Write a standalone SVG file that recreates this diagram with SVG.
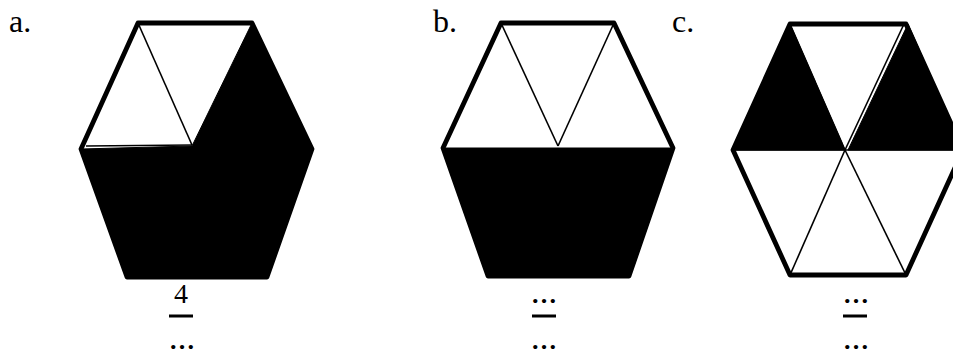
<svg xmlns="http://www.w3.org/2000/svg" width="953" height="351" viewBox="0 0 953 351">
<style>
.lbl{font-family:"Liberation Serif","Times New Roman",serif;font-size:32px;fill:#000}
.num{font-family:"Liberation Serif","Times New Roman",serif;font-size:28px;fill:#000;text-anchor:middle}
.dots{font-family:"Liberation Serif","Times New Roman",serif;font-size:26px;font-weight:bold;fill:#000;text-anchor:middle}
.fill{fill:#000;stroke:#000;stroke-width:1;stroke-linejoin:round}
.out{fill:none;stroke:#000;stroke-width:4.8;stroke-linejoin:round;stroke-linecap:round}
.thin{fill:none;stroke:#000;stroke-width:1.6}
.bar{fill:#000}
</style>
<rect width="953" height="351" fill="#fff"/>
<g id="hex-a">
  <polygon class="fill" points="252,23 312,149 267,277 127,277 81,149 192,146"/>
  <line class="thin" x1="138" y1="23" x2="192" y2="145"/>
  <line class="thin" x1="86" y1="146" x2="192" y2="145"/>
  <polygon class="out" points="138,23 252,23 312,149 267,277 127,277 81,149"/>
  <text class="lbl" x="9" y="32">a.</text>
  <text class="num" x="181" y="303">4</text>
  <rect class="bar" x="169" y="314.5" width="24" height="3"/>
  <text class="dots" x="182" y="349">…</text>
</g>
<g id="hex-b">
  <polygon class="fill" points="443,148 673,148 629,276 488,276"/>
  <line class="thin" x1="501" y1="23" x2="558" y2="146"/>
  <line class="thin" x1="614" y1="23" x2="558" y2="146"/>
  <polygon class="out" points="501,23 614,23 673,148 629,276 488,276 443,148"/>
  <text class="lbl" x="433" y="32">b.</text>
  <text class="dots" x="544" y="303">…</text>
  <rect class="bar" x="532" y="314.5" width="24" height="3"/>
  <text class="dots" x="544" y="349">…</text>
</g>
<g id="hex-c">
  <polygon class="fill" points="790,24 733,150 845,150"/>
  <polygon class="fill" points="908,24 963,150 848,150"/>
  <line class="thin" x1="904" y1="24" x2="845" y2="150"/>
  <line class="thin" x1="790" y1="24" x2="845" y2="150"/>
  <line class="thin" x1="733" y1="150" x2="963" y2="150"/>
  <line class="thin" x1="845" y1="150" x2="790" y2="275"/>
  <line class="thin" x1="845" y1="150" x2="906" y2="275"/>
  <polygon class="out" points="790,24 906,24 963,150 906,275 790,275 733,150"/>
  <text class="lbl" x="672" y="32">c.</text>
  <text class="dots" x="856" y="303">…</text>
  <rect class="bar" x="843" y="314.5" width="24" height="3"/>
  <text class="dots" x="856" y="349">…</text>
</g>
</svg>
